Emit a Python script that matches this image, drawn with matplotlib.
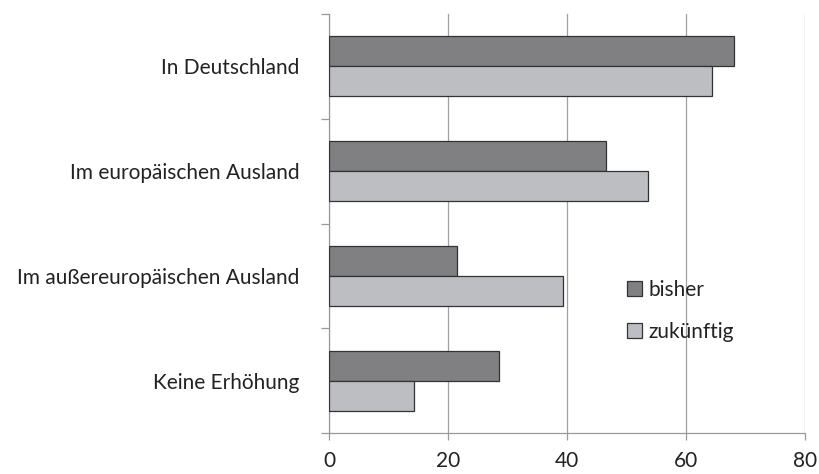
import matplotlib
matplotlib.use("Agg")
import matplotlib.pyplot as plt
import numpy as np

categories = ["In Deutschland", "Im europäischen Ausland", "Im außereuropäischen Ausland", "Keine Erhöhung"]
bisher = [68.0, 46.5, 21.5, 28.6]
zukuenftig = [64.3, 53.6, 39.4, 14.3]
xticks = [0, 20, 40, 60, 80]

plt.rcParams['font.family'] = ['Lato', 'DejaVu Sans']

fig = plt.figure(figsize=(8.19, 4.74), dpi=100)
ax = fig.add_axes([329/819, 1-433/474, (805-329)/819, (433-14)/474])

y = np.arange(len(categories))
h = 0.286
ax.barh(y - h/2, bisher, height=h, color='#808083', edgecolor='#333333', linewidth=0.9, label='bisher', zorder=3)
ax.barh(y + h/2, zukuenftig, height=h, color='#bdbec2', edgecolor='#333333', linewidth=0.9, label='zukünftig', zorder=3)

ax.set_xlim(0, 80)
ax.set_ylim(3.5, -0.5)
ax.set_xticks(xticks)
ax.set_xticklabels([str(v) for v in xticks], fontsize=15, color='#222222')
ax.set_yticks(y)
ax.set_yticklabels(categories, fontsize=15, color='#222222')
ax.set_yticks(np.arange(-0.5, 4.0, 1.0), minor=True)
ax.tick_params(axis='y', which='major', length=0, pad=21)
ax.tick_params(axis='y', which='minor', length=5.5, width=0.9, color='#999999', direction='out')
ax.tick_params(axis='x', which='major', length=5, width=0.9, color='#999999', direction='out', pad=8)

for s in ['top', 'right']:
    ax.spines[s].set_visible(False)
for s in ['left', 'bottom']:
    ax.spines[s].set_color('#999999')
    ax.spines[s].set_linewidth(0.9)

ax.grid(axis='x', color='#a0a0a0', linewidth=0.9, zorder=0)
ax.set_axisbelow(True)

leg = ax.legend(loc='upper left', bbox_to_anchor=(0.586, 0.41), frameon=False, fontsize=15,
                handlelength=0.75, handleheight=0.75, handletextpad=0.3, labelspacing=1.05)
for t in leg.get_texts():
    t.set_color('#222222')

fig.savefig('out.png', dpi=100)
